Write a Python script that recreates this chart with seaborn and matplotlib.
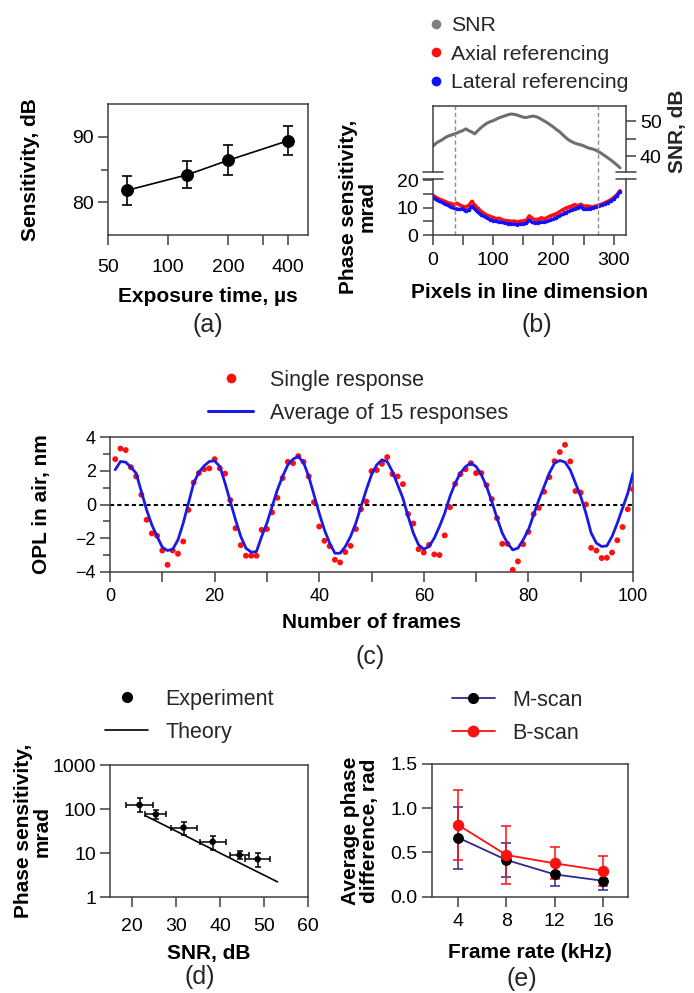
import seaborn as sns
import matplotlib.pyplot as plt
from matplotlib.lines import Line2D
from matplotlib.ticker import FixedLocator, NullLocator, FixedFormatter, NullFormatter

# ---------------- data ----------------
# (a) sensitivity vs exposure time
exposure_us = [62, 125, 200, 400]
sensitivity_db = [81.8, 84.2, 86.4, 89.4]
sensitivity_err = [2.2, 2.1, 2.3, 2.2]

# (b) phase sensitivity and SNR along the line
pixels = list(range(0, 315, 5))
snr_db = [42.8, 43.6, 44.2, 44.6, 45.2, 45.7, 46.0, 46.3, 46.6, 47.0,
          47.3, 47.8, 47.3, 46.9, 46.4, 47.3, 48.1, 48.8, 49.4, 49.8,
          50.1, 50.5, 50.9, 51.2, 51.5, 51.8, 52.0, 51.9, 51.7, 51.4,
          51.1, 51.0, 51.2, 51.4, 51.3, 51.0, 50.5, 50.0, 49.5, 48.9,
          48.3, 47.6, 47.0, 46.2, 45.4, 44.7, 44.2, 43.8, 43.5, 43.3,
          43.0, 42.6, 42.3, 42.1, 41.8, 41.3, 40.8, 40.2, 39.6, 39.0,
          38.3, 37.6, 36.8]
axial_mrad = [14.5, 13.8, 13.2, 12.8, 12.3, 11.8, 11.5, 11.0, 11.6, 10.9,
              10.5, 10.2, 10.9, 12.3, 10.8, 9.8, 8.7, 7.9, 7.2, 6.8,
              6.4, 6.0, 6.1, 5.6, 5.3, 5.2, 5.0, 5.1, 4.8, 5.0,
              5.2, 5.4, 7.0, 6.1, 5.6, 5.8, 6.3, 5.9, 6.4, 7.0,
              7.4, 7.8, 8.5, 9.2, 9.8, 10.2, 10.6, 11.1, 10.7, 11.2,
              10.5, 10.6, 10.4, 10.3, 10.6, 10.9, 11.3, 11.8, 12.3, 12.9,
              13.7, 14.7, 16.2]
lateral_mrad = [13.8, 13.0, 12.4, 12.0, 11.3, 10.9, 10.2, 9.8, 9.5, 9.3,
                9.6, 8.6, 9.0, 10.5, 9.4, 8.3, 7.4, 6.8, 6.2, 5.6,
                5.2, 5.0, 4.7, 4.6, 4.3, 4.1, 4.0, 3.9, 3.8, 3.9,
                4.0, 4.2, 5.4, 4.6, 4.3, 4.5, 4.8, 4.6, 5.0, 5.4,
                5.8, 6.3, 6.9, 7.5, 8.1, 8.6, 9.1, 9.5, 9.9, 10.4,
                9.3, 9.4, 9.6, 9.8, 10.1, 10.5, 10.9, 11.2, 11.8, 12.4,
                13.1, 14.3, 15.8]
roi_pixels = [37, 273]

# (c) OPL response
frames = list(range(1, 101))
single_nm = [2.70, 3.33, 3.24, 2.22, 1.67, 0.58, -0.91, -1.72, -1.86, -2.74,
             -3.59, -2.74, -2.93, -2.20, -0.32, 1.31, 1.87, 2.10, 2.15, 2.70,
             2.15, 1.84, 0.26, -1.41, -2.42, -3.05, -3.05, -3.05, -1.51, -1.46,
             -0.47, 0.40, 1.57, 2.54, 2.46, 2.88, 2.54, 1.67, 0.14, -1.31,
             -2.16, -2.48, -3.29, -3.45, -2.83, -2.46, -1.46, -0.28, 0.18, 1.99,
             2.05, 2.42, 2.82, 1.81, 1.67, 1.21, -0.57, -1.13, -2.66, -2.86,
             -2.40, -2.97, -3.01, -1.84, -0.16, 1.23, 1.81, 2.10, 2.46, 1.87,
             1.87, 1.15, 0.32, -0.81, -2.34, -2.34, -3.89, -3.39, -2.36, -1.63,
             -0.57, -0.20, 0.76, 1.63, 2.58, 3.12, 3.55, 2.56, 0.80, 0.71,
             0.00, -2.58, -2.74, -3.19, -3.17, -2.86, -2.13, -1.34, -0.28, 0.91]
average_nm = [2.07, 2.56, 2.52, 2.22, 1.86, 0.77, -0.32, -1.21, -1.90, -2.54,
              -2.74, -2.66, -2.10, -1.11, 0.08, 1.27, 1.92, 2.30, 2.56, 2.60,
              2.26, 1.27, 0.18, -0.91, -1.90, -2.60, -2.84, -2.80, -1.90, -1.11,
              -0.12, 0.87, 1.67, 2.36, 2.70, 2.86, 2.50, 1.67, 0.58, -0.52,
              -1.51, -2.30, -2.90, -2.90, -2.50, -1.90, -1.11, -0.12, 0.87, 1.77,
              2.36, 2.66, 2.56, 1.96, 1.17, 0.38, -0.71, -1.70, -2.40, -2.66,
              -2.50, -2.00, -1.31, -0.52, 0.48, 1.27, 1.87, 2.26, 2.46, 2.26,
              1.77, 1.07, 0.18, -0.81, -1.70, -2.30, -2.70, -2.60, -2.10, -1.51,
              -0.61, 0.28, 1.07, 1.87, 2.46, 2.62, 2.52, 2.06, 1.27, 0.48,
              -0.52, -1.70, -2.30, -2.50, -2.46, -1.90, -1.11, -0.22, 0.67, 1.87]

# (d) phase sensitivity vs SNR
snr_exp = [21.7, 25.4, 31.7, 38.3, 44.4, 48.5]
snr_exp_err = [3.1, 2.35, 2.95, 2.95, 2.1, 2.9]
phase_exp = [124, 76, 38, 18.2, 9.1, 7.3]
phase_exp_lo = [84.6, 58.7, 25.9, 11.8, 7.3, 4.8]
phase_exp_hi = [176, 95, 52, 24.5, 11.4, 9.95]
theory_snr = [23, 53]
theory_phase = [71, 2.24]

# (e) average phase difference vs frame rate
frame_rate_khz = [4, 8, 12, 16]
mscan_rad = [0.667, 0.415, 0.252, 0.18]
mscan_err = [0.35, 0.19, 0.13, 0.10]
bscan_rad = [0.81, 0.471, 0.377, 0.294]
bscan_err = [0.40, 0.33, 0.18, 0.17]

# ---------------- style ----------------
sns.set_style("ticks")
plt.rcParams['font.family'] = ['Liberation Sans', 'DejaVu Sans']
plt.rcParams.update({
    'axes.edgecolor': '0.25', 'axes.linewidth': 1.1,
    'xtick.color': '0.25', 'ytick.color': '0.25',
    'xtick.labelcolor': 'black', 'ytick.labelcolor': 'black',
    'xtick.major.size': 7, 'ytick.major.size': 7,
    'xtick.minor.size': 7, 'ytick.minor.size': 5,
    'xtick.major.width': 1.1, 'ytick.major.width': 1.1,
    'xtick.minor.width': 1.1, 'ytick.minor.width': 1.1,
    'xtick.labelsize': 14, 'ytick.labelsize': 14,
    'xtick.major.pad': 5, 'ytick.major.pad': 3,
})

W, H = 694, 993
fig = plt.figure(figsize=(W / 100, H / 100), dpi=100)


def add_ax(l, t, r, b):
    return fig.add_axes([l / W, 1 - b / H, (r - l) / W, (b - t) / H])


def xlabel_at(ax, text, y, x=None, size=15):
    bb = ax.get_position()
    xf = (bb.x0 + bb.x1) / 2 if x is None else x / W
    ax.set_xlabel(text, fontsize=size, fontweight='bold', color='black')
    ax.xaxis.set_label_coords(xf, 1 - y / H, transform=fig.transFigure)
    ax.xaxis.label.set_va('center')


def ylabel_at(ax, text, x, y=None, size=15):
    bb = ax.get_position()
    yf = (bb.y0 + bb.y1) / 2 if y is None else 1 - y / H
    ax.set_ylabel(text, fontsize=size, fontweight='bold', color='black',
                  linespacing=1.0)
    ax.yaxis.set_label_coords(x / W, yf, transform=fig.transFigure)
    ax.yaxis.label.set_va('center')


def panel(label, x, y):
    fig.text(x / W, 1 - y / H, label, ha='center', va='center', fontsize=18)


def box(ax):
    for s in ax.spines.values():
        s.set_visible(True)


leg_kw = dict(frameon=False, loc='upper left', borderpad=0, borderaxespad=0,
              fontsize=15.5, handletextpad=0.8, labelspacing=0.55,
              bbox_transform=fig.transFigure)

# ---------------- (a) ----------------
ax = add_ax(108, 104, 307.5, 235)
ax.errorbar(exposure_us, sensitivity_db, yerr=sensitivity_err, fmt='none',
            ecolor='black', elinewidth=1.2, capsize=3.5, capthick=1.2)
sns.lineplot(x=exposure_us, y=sensitivity_db, ax=ax, color='black', lw=1.2,
             marker='o', ms=8.5, mfc='black', mec='black')
ax.set_xscale('log')
ax.set_xlim(50, 500)
ax.set_ylim(75, 95)
ax.xaxis.set_major_locator(FixedLocator([50, 100, 200, 400]))
ax.xaxis.set_major_formatter(FixedFormatter(['50', '100', '200', '400']))
ax.xaxis.set_minor_locator(FixedLocator([300]))
ax.xaxis.set_minor_formatter(NullFormatter())
ax.tick_params(axis='x', pad=10)
ax.set_yticks([80, 90])
ax.yaxis.set_minor_locator(FixedLocator([85]))
box(ax)
xlabel_at(ax, 'Exposure time, µs', 296)
ylabel_at(ax, 'Sensitivity, dB', 30)
panel('(a)', 208, 325)

# ---------------- (b) ----------------
ax_up = add_ax(432.5, 105.5, 626, 171.7)
ax_lo = add_ax(432.5, 179.3, 626, 235)
sns.lineplot(x=pixels, y=snr_db, ax=ax_up, color='#6e6e6e', lw=2.2)
sns.lineplot(x=pixels, y=axial_mrad, ax=ax_lo, color='#ff1010', lw=2.4,
             marker='o', ms=2.5, mec='none')
sns.lineplot(x=pixels, y=lateral_mrad, ax=ax_lo, color='#1010ff', lw=2.4,
             marker='o', ms=2.5, mec='none')
for a in (ax_up, ax_lo):
    a.set_xlim(0, 320)
    box(a)
ax_up.set_ylim(35.7, 54.4)
ax_lo.set_ylim(0, 20.3)
ax_up.spines['bottom'].set_visible(False)
ax_lo.spines['top'].set_visible(False)
ax_up.tick_params(axis='x', bottom=False, labelbottom=False)
ax_up.tick_params(axis='y', left=False, labelleft=False, right=True,
                  labelright=True, which='both')
ax_up.set_yticks([40, 50])
ax_up.yaxis.set_minor_locator(FixedLocator([45]))
ax_up.tick_params(axis='y', which='minor', length=7)
ax_lo.set_xticks([0, 100, 200, 300])
ax_lo.xaxis.set_minor_locator(FixedLocator([50, 150, 250]))
ax_lo.set_yticks([0, 10, 20])
ax_lo.yaxis.set_minor_locator(FixedLocator([5, 15]))
ax_lo.tick_params(axis='y', which='minor', length=7)
frac = (235 - 171.7) / (235 - 179.3)
for xr in roi_pixels:
    ax_up.axvline(xr, color='0.55', ls=(0, (3, 2)), lw=1)
    ax_lo.axvline(xr, ymin=0, ymax=frac, color='0.55', ls=(0, (3, 2)), lw=1,
                  clip_on=False)
d = 10 / 193.5
for xa in (0, 1):
    ax_lo.plot([xa - d, xa + d], [1, 1], transform=ax_lo.transAxes,
               color='0.25', lw=1.1, clip_on=False)
    ax_up.plot([xa - d, xa + d], [0, 0], transform=ax_up.transAxes,
               color='0.25', lw=1.1, clip_on=False)
ax_up.set_ylabel('SNR, dB', fontsize=15, fontweight='bold')
ax_up.yaxis.set_label_position('right')
ax_up.yaxis.set_label_coords(677 / W, 1 - 131 / H, transform=fig.transFigure)
ax_up.yaxis.label.set_va('center')
xlabel_at(ax_lo, 'Pixels in line dimension', 293)
ylabel_at(ax_lo, 'Phase sensitivity,\nmrad', 358, 207)
panel('(b)', 537, 325)
handles_b = [Line2D([], [], ls='none', marker='o', ms=7, color=c, mec='none')
             for c in ('#808080', '#ff1010', '#1010ff')]
fig.legend(handles_b, ['SNR', 'Axial referencing', 'Lateral referencing'],
           bbox_to_anchor=(427 / W, 1 - 16 / H), handlelength=0.8,
           **{**leg_kw, 'handletextpad': 0.35, 'labelspacing': 0.45,
              'fontsize': 15.3})

# ---------------- (c) ----------------
ax = add_ax(110, 437.3, 633, 571.7)
ax.axhline(0, color='black', ls=(0, (2, 1.5)), lw=1.5, zorder=1)
sns.scatterplot(x=frames, y=single_nm, ax=ax, color='#ff1010', s=18,
                edgecolor='none', zorder=3)
sns.lineplot(x=frames, y=average_nm, ax=ax, color='#1a1ae6', lw=2, zorder=4)
ax.set_xlim(0, 100)
ax.set_ylim(-4, 4)
ax.set_xticks(range(0, 101, 20))
ax.xaxis.set_minor_locator(FixedLocator(range(10, 100, 20)))
ax.set_yticks([-4, -2, 0, 2, 4])
ax.yaxis.set_minor_locator(FixedLocator([-3, -1, 1, 3]))
ax.tick_params(labelsize=13)
box(ax)
xlabel_at(ax, 'Number of frames', 622)
ylabel_at(ax, 'OPL in air, nm', 42)
panel('(c)', 370, 657)
handles_c = [Line2D([], [], ls='none', marker='o', ms=7, color='#ff1010',
                    mec='none'),
             Line2D([], [], color='#1a1ae6', lw=2.2)]
fig.legend(handles_c, ['Single response', 'Average of 15 responses'],
           bbox_to_anchor=(208 / W, 1 - 370 / H), handlelength=2.1, **leg_kw)

# ---------------- (d) ----------------
ax = add_ax(110, 765, 308.3, 897.3)
yerr_d = [[p - lo for p, lo in zip(phase_exp, phase_exp_lo)],
          [hi - p for p, hi in zip(phase_exp, phase_exp_hi)]]
ax.errorbar(snr_exp, phase_exp, xerr=snr_exp_err, yerr=yerr_d, fmt='none',
            ecolor='black', elinewidth=1.1, capsize=2.5, capthick=1.1)
sns.scatterplot(x=snr_exp, y=phase_exp, ax=ax, color='black', s=22,
                edgecolor='none', zorder=3)
sns.lineplot(x=theory_snr, y=theory_phase, ax=ax, color='black', lw=1.2)
ax.set_yscale('log')
ax.set_ylim(1, 1000)
ax.set_xlim(15, 60)
ax.set_xticks([20, 30, 40, 50, 60])
ax.tick_params(axis='x', pad=8)
ax.yaxis.set_major_locator(FixedLocator([1, 10, 100, 1000]))
ax.yaxis.set_major_formatter(FixedFormatter(['1', '10', '100', '1000']))
ax.yaxis.set_minor_locator(NullLocator())
box(ax)
xlabel_at(ax, 'SNR, dB', 953)
ylabel_at(ax, 'Phase sensitivity,\nmrad', 33)
panel('(d)', 200, 977)
handles_d = [Line2D([], [], ls='none', marker='o', ms=7, color='black'),
             Line2D([], [], color='black', lw=1.2)]
fig.legend(handles_d, ['Experiment', 'Theory'],
           bbox_to_anchor=(105 / W, 1 - 689 / H), handlelength=2.0, **leg_kw)

# ---------------- (e) ----------------
ax = add_ax(431.7, 764, 628.3, 896.7)
ax.errorbar(frame_rate_khz, mscan_rad, yerr=mscan_err, fmt='none',
            ecolor='#2b2b8c', elinewidth=1.1, capsize=3.5, capthick=1.1)
ax.errorbar(frame_rate_khz, bscan_rad, yerr=bscan_err, fmt='none',
            ecolor='#ff1010', elinewidth=1.1, capsize=3.5, capthick=1.1)
sns.lineplot(x=frame_rate_khz, y=mscan_rad, ax=ax, color='#2b2b8c', lw=1.3,
             marker='o', ms=7, mfc='black', mec='black')
sns.lineplot(x=frame_rate_khz, y=bscan_rad, ax=ax, color='#ff1010', lw=1.3,
             marker='o', ms=7.5, mfc='#ff1010', mec='#ff1010')
ax.set_xlim(1.8, 18.1)
ax.set_ylim(0, 1.5)
ax.set_xticks(frame_rate_khz)
ax.set_yticks([0, 0.5, 1.0, 1.5])
ax.set_yticklabels(['0.0', '0.5', '1.0', '1.5'])
box(ax)
xlabel_at(ax, 'Frame rate (kHz)', 953)
ylabel_at(ax, 'Average phase\ndifference, rad', 360)
panel('(e)', 522, 979)
handles_e = [Line2D([], [], color='#2b2b8c', lw=1.3, marker='o', ms=7,
                    mfc='black', mec='black'),
             Line2D([], [], color='#ff1010', lw=1.3, marker='o', ms=7.5)]
fig.legend(handles_e, ['M-scan', 'B-scan'],
           bbox_to_anchor=(451.7 / W, 1 - 690 / H), handlelength=2.0,
           **leg_kw)

fig.savefig('out.png', dpi=100)
